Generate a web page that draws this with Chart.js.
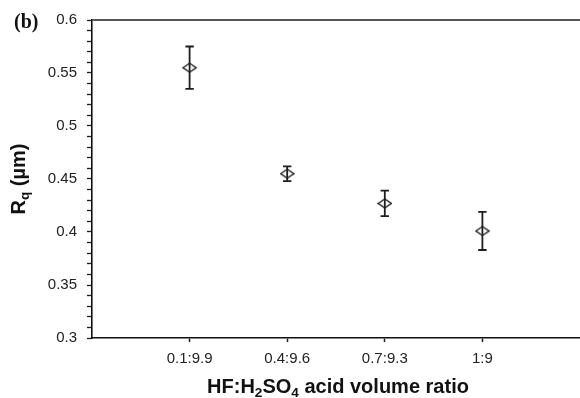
<!DOCTYPE html>
<html>
<head>
<meta charset="utf-8">
<script src="https://cdn.jsdelivr.net/npm/chart.js@4/dist/chart.umd.min.js"></script>
<style>
  html, body { margin: 0; padding: 0; background: #fff; }
  #wrap { width: 580px; height: 398px; }
</style>
</head>
<body>
<div id="wrap"><canvas id="c" width="580" height="398"></canvas></div>
<script>
// Acid mixing ratios and measured RMS roughness (mean and error)
const ratios = ['0.1:9.9', '0.4:9.6', '0.7:9.3', '1:9'];
const rqMean = [0.555, 0.455, 0.427, 0.401];
const rqError = [0.020, 0.007, 0.012, 0.018];
const yMajorStep = 0.05;
const yMinorStep = 0.01;

const FONT = '"Liberation Sans", Arial, sans-serif';
const INK = '#1e1e1e';

// open diamond marker, slightly wider than tall
function diamondMarker() {
  const w = 15, h = 11;
  const cv = document.createElement('canvas');
  cv.width = w; cv.height = h;
  const g = cv.getContext('2d');
  g.strokeStyle = INK;
  g.lineWidth = 1.4;
  g.beginPath();
  g.moveTo(1, h / 2);
  g.lineTo(w / 2, 1);
  g.lineTo(w - 1, h / 2);
  g.lineTo(w / 2, h - 1);
  g.closePath();
  g.stroke();
  return cv;
}

const points = ratios.map((r, i) => ({ x: i + 1, y: rqMean[i] }));

// vertical error bars with caps, drawn beneath the markers
const errorBars = {
  id: 'errorBars',
  beforeDatasetsDraw(chart) {
    const { ctx, scales: { x, y } } = chart;
    ctx.save();
    ctx.strokeStyle = INK;
    ctx.lineWidth = 1.8;
    const cap = 4.2;
    rqMean.forEach((m, i) => {
      const px = x.getPixelForValue(i + 1);
      const top = y.getPixelForValue(m + rqError[i]);
      const bot = y.getPixelForValue(m - rqError[i]);
      ctx.beginPath();
      ctx.moveTo(px, top); ctx.lineTo(px, bot);
      ctx.moveTo(px - cap, top); ctx.lineTo(px + cap, top);
      ctx.moveTo(px - cap, bot); ctx.lineTo(px + cap, bot);
      ctx.stroke();
    });
    ctx.restore();
  }
};

// text runs with subscripts, used for the axis titles
function richWidth(ctx, runs, size) {
  let w = 0;
  runs.forEach(r => {
    ctx.font = 'bold ' + (r.sub ? size * 0.68 : size) + 'px ' + FONT;
    w += ctx.measureText(r.t).width;
  });
  return w;
}
function drawRich(ctx, runs, size, startX, baseY) {
  let x = startX;
  runs.forEach(r => {
    const s = r.sub ? size * 0.68 : size;
    ctx.font = 'bold ' + s + 'px ' + FONT;
    ctx.fillText(r.t, x, baseY + (r.sub ? size * 0.22 : 0));
    x += ctx.measureText(r.t).width;
  });
}

const xTitleRuns = [
  { t: 'HF:H' }, { t: '2', sub: true }, { t: 'SO' }, { t: '4', sub: true },
  { t: ' acid volume ratio' }
];
const yTitleRuns = [{ t: 'R' }, { t: 'q', sub: true }, { t: ' (\u00b5m)' }];

const decorations = {
  id: 'decorations',
  afterDraw(chart) {
    const { ctx, chartArea: a } = chart;
    ctx.save();
    // top frame line
    ctx.strokeStyle = '#555';
    ctx.lineWidth = 2;
    ctx.beginPath();
    ctx.moveTo(a.left, a.top);
    ctx.lineTo(chart.width, a.top);
    ctx.stroke();

    ctx.fillStyle = '#111';
    ctx.textBaseline = 'alphabetic';
    ctx.textAlign = 'left';
    const size = 20;
    // x title
    const xw = richWidth(ctx, xTitleRuns, size);
    drawRich(ctx, xTitleRuns, size, (a.left + a.right) / 2 - xw / 2 + 2, 393);
    // y title, rotated
    const yw = richWidth(ctx, yTitleRuns, size);
    ctx.translate(25, (a.top + a.bottom) / 2);
    ctx.rotate(-Math.PI / 2);
    drawRich(ctx, yTitleRuns, size, -yw / 2, 0);
    ctx.restore();

    // panel tag
    ctx.save();
    ctx.fillStyle = '#111';
    ctx.font = 'bold 20px "Liberation Serif", "Times New Roman", serif';
    ctx.textBaseline = 'alphabetic';
    ctx.fillText('(b)', 14, 28);
    ctx.restore();
  }
};

new Chart(document.getElementById('c'), {
  type: 'scatter',
  data: {
    datasets: [{
      data: points,
      pointStyle: diamondMarker(),
      pointRadius: 6,
      pointHoverRadius: 6,
      showLine: false
    }]
  },
  options: {
    responsive: false,
    animation: false,
    events: [],
    layout: { autoPadding: false, padding: { top: 20, right: 0, left: 0, bottom: 0 } },
    plugins: { legend: { display: false }, tooltip: { enabled: false } },
    scales: {
      x: {
        type: 'linear',
        min: 0,
        max: 5,
        afterBuildTicks(scale) {
          scale.ticks = ratios.map((r, i) => ({ value: i + 1 }));
        },
        afterFit(scale) {
          scale.height = 60;
          scale.paddingRight = 0;
        },
        ticks: {
          callback: v => ratios[v - 1] ?? '',
          color: '#222',
          font: { family: FONT, size: 15 },
          padding: 8,
          maxRotation: 0,
          autoSkip: false
        },
        grid: {
          drawOnChartArea: false,
          drawTicks: true,
          tickLength: 4,
          tickColor: INK,
          tickWidth: 1.5
        },
        border: { display: true, color: '#111', width: 1.6 }
      },
      y: {
        min: 0.3,
        max: 0.6,
        afterFit(scale) { scale.width = 92; },
        ticks: {
          stepSize: yMinorStep,
          maxTicksLimit: 100,
          autoSkip: false,
          color: '#222',
          font: { family: FONT, size: 15 },
          padding: 10,
          callback(v) {
            const k = v / yMajorStep;
            if (Math.abs(k - Math.round(k)) > 1e-6) return '';
            return String(Number(v.toFixed(2)));
          }
        },
        grid: {
          drawOnChartArea: false,
          drawTicks: true,
          tickLength: 5,
          tickColor: INK,
          tickWidth: 1.3
        },
        border: { display: true, color: '#111', width: 1.6 }
      }
    }
  },
  plugins: [errorBars, decorations]
});
</script>
</body>
</html>
